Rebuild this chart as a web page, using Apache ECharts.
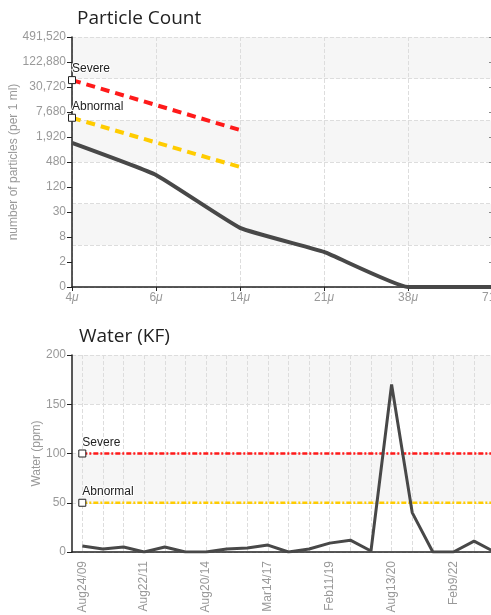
<!DOCTYPE html>
<html>
<head>
<meta charset="utf-8">
<style>
html, body { margin: 0; padding: 0; overflow: hidden; background: #fff; }
#main { width: 560px; height: 615px; }
</style>
</head>
<body>
<div id="main"></div>
<script src="https://cdn.jsdelivr.net/npm/echarts@6.0.0/dist/echarts.min.js"></script>
<script>
var sizeLabels = ['4μ', '6μ', '14μ', '21μ', '38μ', '71μ'];
var countTicks = [0, 2, 8, 30, 120, 480, 1920, 7680, 30720, 122880, 491520];
var particleCounts = [1380, 233, 13, 3.5, 0, 0];
var particleSevere = [45000, 11300, 2830];
var particleAbnormal = [5580, 1415, 364];

var waterDates = ['Aug24/09', '', '', 'Aug22/11', '', '', 'Aug20/14', '', '', 'Mar14/17', '', '', 'Feb11/19', '', '', 'Aug13/20', '', '', 'Feb9/22', '', ''];
var waterPpm = [6, 3, 5, 0, 5, 0, 0, 3, 4, 7, 0, 3, 9, 12, 1, 170, 40, 0, 0, 11, 0];
var waterSevere = 100;
var waterAbnormal = 50;

var font = '"Liberation Sans", Arial, sans-serif';
var gray = '#999';
var band = '#f6f6f6';

var myChart = echarts.init(document.getElementById('main'));

// count axis is stepped (each tick about x4), so put values between ticks on a log scale
function countPos(v) {
	if (v <= 0) return 0;
	for (var i = 0; i < countTicks.length - 1; i++) {
		var a = countTicks[i], b = countTicks[i + 1];
		if (v <= b) {
			if (a === 0) return v / b;
			return i + Math.log(v / a) / Math.log(b / a);
		}
	}
	return countTicks.length - 1;
}

// first point of a limit line gets the square marker and its name
function limitPoint(x, y, i, name) {
	if (i > 0) return { value: [x, y], symbolSize: 0 };
	return {
		value: [x, y],
		symbol: 'rect',
		symbolSize: 7,
		itemStyle: { color: '#fff', borderColor: '#222', borderWidth: 1 },
		label: {
			show: true, formatter: name, position: 'top', align: 'left', distance: 1,
			color: '#222', fontSize: 12, fontFamily: font,
			textBorderColor: '#fff', textBorderWidth: 2
		}
	};
}

function limitSeries(xi, yi, data, color, width, dash) {
	return {
		type: 'line', xAxisIndex: xi, yAxisIndex: yi,
		data: data, symbol: 'rect', showSymbol: true, silent: true,
		lineStyle: { color: color, width: width, type: dash },
		itemStyle: { color: '#fff', borderColor: '#222', borderWidth: 1 },
		z: 3, animation: false
	};
}

var last = waterDates.length - 1;

myChart.setOption({
	animation: false,
	textStyle: { fontFamily: font },
	title: [
		{ text: 'Particle Count', left: 72, top: 4, textStyle: { fontSize: 19, fontWeight: 'normal', color: '#222', fontFamily: '"Open Sans", sans-serif' } },
		{ text: 'Water (KF)', left: 74, top: 322, textStyle: { fontSize: 19, fontWeight: 'normal', color: '#222', fontFamily: '"Open Sans", sans-serif' } }
	],
	grid: [
		{ left: 72, top: 37, width: 420, height: 250, outerBoundsMode: 'none', containLabel: false },
		{ left: 72, top: 355, width: 433, height: 197, outerBoundsMode: 'none', containLabel: false }
	],
	xAxis: [
		{
			type: 'category', gridIndex: 0, data: sizeLabels, boundaryGap: false,
			axisLine: { lineStyle: { color: '#222', width: 1.5 } },
			axisTick: { length: 4, lineStyle: { color: '#222' } },
			axisLabel: {
				color: gray, fontSize: 12, margin: 5,
				formatter: function (v) { return '{n|' + v.replace('μ', '') + '}{u|μ}'; },
				rich: { n: { color: gray, fontSize: 12 }, u: { color: gray, fontSize: 12, fontStyle: 'italic' } }
			},
			splitLine: { show: true, lineStyle: { color: '#ddd', type: 'dashed' } }
		},
		{
			type: 'category', gridIndex: 1, data: waterDates, boundaryGap: true,
			axisLine: { lineStyle: { color: '#222', width: 1.5 } },
			axisTick: { alignWithLabel: true, interval: 2, length: 5, lineStyle: { color: '#222' } },
			axisLabel: { rotate: 90, interval: 2, color: gray, fontSize: 12, margin: 9 },
			splitLine: { show: true, interval: 0, alignWithLabel: true, lineStyle: { color: '#ddd', type: 'dashed' } }
		}
	],
	yAxis: [
		{
			type: 'value', gridIndex: 0, min: 0, max: 10, interval: 1,
			name: 'number of particles (per 1 ml)', nameLocation: 'middle', nameGap: 52, nameMoveOverlap: false,
			nameTextStyle: { color: gray, fontSize: 12 },
			axisLine: { show: true, lineStyle: { color: '#222', width: 1.5 } },
			axisTick: { show: true, length: 5, lineStyle: { color: '#222' } },
			axisLabel: { color: gray, fontSize: 12, margin: 6, formatter: function (v) { return countTicks[v].toLocaleString('en-US'); } },
			splitLine: { show: false }
		},
		{
			type: 'value', gridIndex: 0, position: 'right', min: 0, max: 10, interval: 1,
			axisLine: { show: false },
			axisTick: { show: true, inside: true, length: 3, lineStyle: { color: '#888' } },
			axisLabel: { show: false },
			splitLine: { show: false }
		},
		{
			// plain 6-band background behind the count chart
			type: 'value', gridIndex: 0, position: 'right', offset: 40, min: 0, max: 6, interval: 1,
			axisLine: { show: false }, axisTick: { show: false }, axisLabel: { show: false },
			splitLine: { show: true, lineStyle: { color: '#ddd', type: 'dashed' } },
			splitArea: { show: true, areaStyle: { color: ['#fff', band] } }
		},
		{
			type: 'value', gridIndex: 1, min: 0, max: 200, interval: 50,
			name: 'Water (ppm)', nameLocation: 'middle', nameGap: 29, nameMoveOverlap: false,
			nameTextStyle: { color: gray, fontSize: 12 },
			axisLine: { show: true, lineStyle: { color: '#222', width: 1.5 } },
			axisTick: { show: true, length: 5, lineStyle: { color: '#222' } },
			axisLabel: { color: gray, fontSize: 12, margin: 6 },
			splitLine: { show: true, lineStyle: { color: '#ddd', type: 'dashed' } },
			splitArea: { show: true, areaStyle: { color: ['#fff', band] } }
		}
	],
	series: [
		limitSeries(0, 0, particleSevere.map(function (v, i) { return limitPoint(i, countPos(v), i, 'Severe'); }), '#ff1a1a', 4, [9, 6]),
		limitSeries(0, 0, particleAbnormal.map(function (v, i) { return limitPoint(i, countPos(v), i, 'Abnormal'); }), '#ffcc00', 4, [9, 6]),
		{
			type: 'line', xAxisIndex: 0, yAxisIndex: 0, smooth: 0.12,
			data: particleCounts.map(countPos), symbol: 'none',
			lineStyle: { color: '#484848', width: 4 }, z: 4
		},
		limitSeries(1, 3, [limitPoint(0, waterSevere, 0, 'Severe'), limitPoint(last, waterSevere, 1)], '#ff1a1a', 2.5, [5, 2, 2, 2]),
		limitSeries(1, 3, [limitPoint(0, waterAbnormal, 0, 'Abnormal'), limitPoint(last, waterAbnormal, 1)], '#ffcc00', 2.5, [5, 2, 2, 2]),
		{
			type: 'line', xAxisIndex: 1, yAxisIndex: 3,
			data: waterPpm, symbol: 'none',
			lineStyle: { color: '#484848', width: 3 }, z: 4
		}
	]
});
</script>
</body>
</html>
